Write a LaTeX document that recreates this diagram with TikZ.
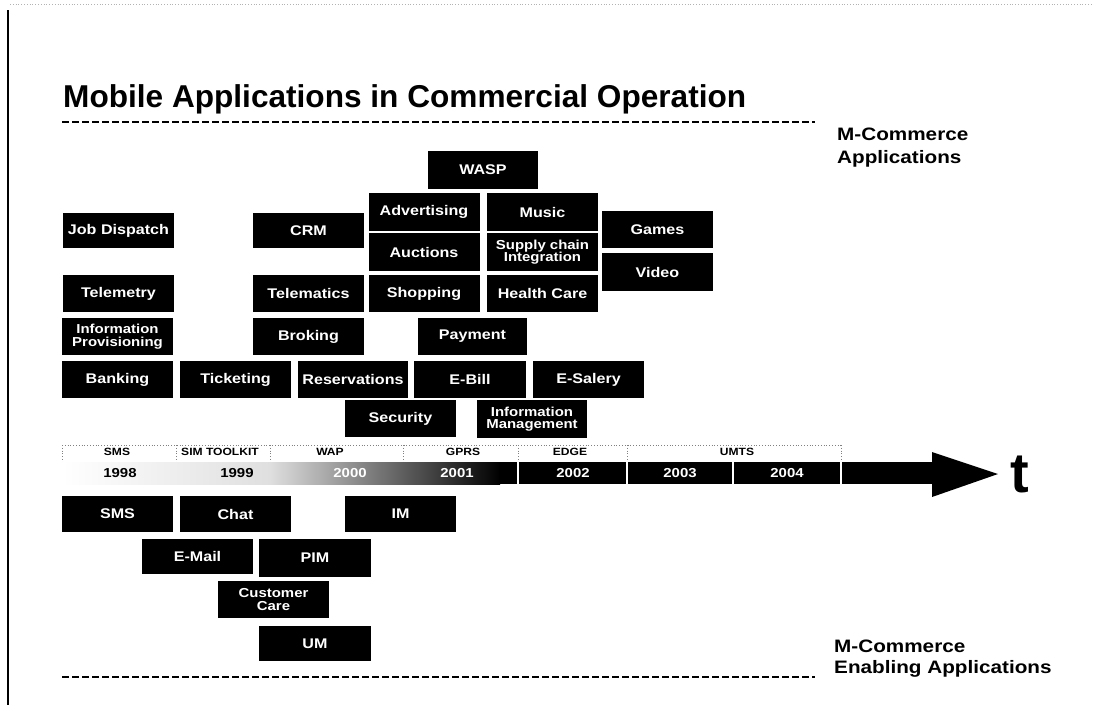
\documentclass[tikz,border=0pt]{standalone}
\usepackage{fontspec}
\setmainfont{Liberation Sans}
\newfontfamily\wf{Liberation Sans}[FakeStretch=1.15]
\begin{document}
\begin{tikzpicture}[x=1pt,y=-1pt,
  app/.style={fill=black, text=white, inner sep=0pt, minimum width=111pt, minimum height=37pt, align=center, font=\wf\bfseries\fontsize{14}{13}\selectfont},
  apptwo/.style={app, font=\wf\bfseries\fontsize{13}{12.5}\selectfont},
  era/.style={font=\wf\bfseries\fontsize{10.5}{11}\selectfont, inner sep=0pt},
  yr/.style={font=\wf\bfseries\fontsize{13}{13}\selectfont, inner sep=0pt},
  side/.style={font=\wf\bfseries\fontsize{18}{20}\selectfont, anchor=base west, inner sep=0pt},
  sepline/.style={dash pattern=on 7pt off 3pt, line width=1.6pt},
  dotsep/.style={gray, dotted, line width=0.8pt},
  barsep/.style={white, line width=1.2pt}]
\useasboundingbox (0,0) rectangle (1094,724);
% page frame remnants
\coordinate (fr1) at (8,10); \coordinate (fr2) at (8,705);
\draw[line width=1.5pt] (fr1) -- (fr2);
\coordinate (tp1) at (10,4); \coordinate (tp2) at (1094,4);
\draw[gray!60, dotted, line width=0.8pt] (tp1) -- (tp2);
% title
\node[anchor=base west, inner sep=0pt, font=\bfseries\fontsize{31.6}{34}\selectfont] (title) at (63,107) {Mobile Applications in Commercial Operation};
% dashed separators
\coordinate (ta) at (62,122); \coordinate (tb) at (815,122);
\draw[sepline] (ta) -- (tb);
\coordinate (ba) at (62,677); \coordinate (bb) at (815,677);
\draw[sepline] (ba) -- (bb);
% side labels
\node[side] (mc1) at (837,140) {M-Commerce};
\node[side] (mc2) at (837,163) {Applications};
\node[side] (me1) at (834,652) {M-Commerce};
\node[side] (me2) at (834,673) {Enabling Applications};
% application boxes
\node[app, minimum height=38pt, minimum width=110pt] (wasp) at (483,170) {WASP};
\node[app, minimum height=38pt] (adv) at (424,212) {Advertising};
\node[app, minimum height=38pt] (music) at (542.5,212) {Music};
\node[app, minimum height=35pt] (job) at (118.5,230.5) {Job Dispatch};
\node[app, minimum height=35pt] (crm) at (308.5,230.5) {CRM};
\node[app] (games) at (657.5,229.5) {Games};
\node[app, minimum height=38pt] (auct) at (424,252) {Auctions};
\node[apptwo, minimum height=38pt] (supply) at (542.5,252) {Supply chain\\Integration};
\node[app, minimum height=38pt] (video) at (657.5,272) {Video};
\node[app] (telemetry) at (118.5,293.5) {Telemetry};
\node[app] (telematics) at (308.5,293.5) {Telematics};
\node[app] (shop) at (424,293.5) {Shopping};
\node[app] (health) at (542.5,293.5) {Health Care};
\node[apptwo] (infoprov) at (117.5,336.5) {Information\\Provisioning};
\node[app] (broking) at (308.5,336.5) {Broking};
\node[app, minimum width=109pt] (payment) at (472.5,336.5) {Payment};
\node[app] (banking) at (117.5,379.5) {Banking};
\node[app] (ticket) at (235.5,379.5) {Ticketing};
\node[app, minimum width=110pt] (reserv) at (353,379.5) {Reservations};
\node[app, minimum width=112pt] (ebill) at (470,379.5) {E-Bill};
\node[app] (esal) at (588.5,379.5) {E-Salery};
\node[app] (security) at (400.5,418.5) {Security};
\node[apptwo, minimum width=110pt, minimum height=38pt] (infomgmt) at (532,419) {Information\\Management};
% timeline: era labels row
\coordinate (lr1) at (62,445); \coordinate (lr2) at (841,445);
\draw[dotsep] (lr1) -- (lr2);
\foreach \x in {176,270,403,518,627,841} {
  \coordinate (s\x a) at (\x,445); \coordinate (s\x b) at (\x,462);
  \draw[dotsep] (s\x a) -- (s\x b);
}
\coordinate (l62a) at (62,445); \coordinate (l62b) at (62,484);
\draw[dotsep] (l62a) -- (l62b);
\node[era] (esms) at (117,452) {SMS};
\node[era] (esim) at (220,452) {SIM TOOLKIT};
\node[era] (ewap) at (330,452) {WAP};
\node[era] (egprs) at (463,452) {GPRS};
\node[era] (eedge) at (570,452) {EDGE};
\node[era] (eumts) at (737,452) {UMTS};
% timeline bar
\shade[left color=white, right color=gray!25] (62,462) rectangle (270,484);
\shade[left color=gray!25, right color=black] (270,462) rectangle (500,484);
\fill[black] (499,462) rectangle (933,484);
\coordinate (ah1) at (932,452); \coordinate (ah2) at (998,474); \coordinate (ah3) at (932,497);
\fill[black] (ah1) -- (ah2) -- (ah3) -- cycle;
\foreach \x in {518,627,733,841} {
  \coordinate (w\x a) at (\x,462); \coordinate (w\x b) at (\x,484);
  \draw[barsep] (w\x a) -- (w\x b);
}
\node[yr] (y98) at (120,473) {1998};
\node[yr] (y99) at (237,473) {1999};
\node[yr, text=white] (y00) at (350,473) {2000};
\node[yr, text=white] (y01) at (457,473) {2001};
\node[yr, text=white] (y02) at (573,473) {2002};
\node[yr, text=white] (y03) at (680,473) {2003};
\node[yr, text=white] (y04) at (787,473) {2004};
\node[anchor=base, inner sep=0pt, font=\bfseries\fontsize{56}{56}\selectfont] (tlab) at (1020,492) {t};
% enabling applications
\node[app, minimum height=36pt] (sms) at (117.5,514) {SMS};
\node[app, minimum height=36pt] (chat) at (235.5,514) {Chat};
\node[app, minimum height=36pt] (im) at (400.5,514) {IM};
\node[app, minimum height=35pt] (email) at (197.5,556.5) {E-Mail};
\node[app, minimum width=112pt, minimum height=38pt] (pim) at (315,558) {PIM};
\node[apptwo] (cust) at (273.5,599.5) {Customer\\Care};
\node[app, minimum width=112pt, minimum height=35pt] (um) at (315,643.5) {UM};
\end{tikzpicture}
\end{document}
